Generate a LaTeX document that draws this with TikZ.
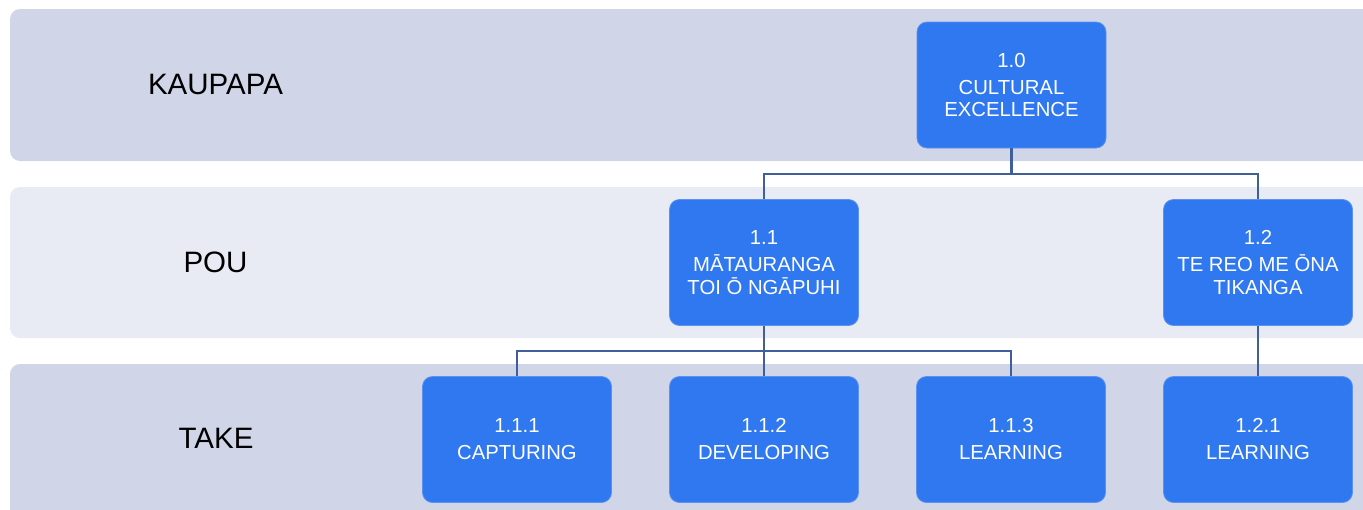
\documentclass[tikz,border=0pt]{standalone}
\usepackage{fontspec}
\setmainfont{Liberation Sans}
\usetikzlibrary{calc}
\definecolor{bandA}{HTML}{D1D5E8}
\definecolor{bandB}{HTML}{E8EAF4}
\definecolor{boxblue}{HTML}{2F78EF}
\definecolor{boxedge}{HTML}{5C92EE}
\definecolor{linkc}{HTML}{3F5E9A}
\begin{document}
\begin{tikzpicture}[x=1pt,y=-1pt,
  band/.style={rounded corners=10pt},
  box/.style={draw=boxedge, line width=0.8pt, fill=boxblue, rounded corners=10pt,
    minimum width=189pt, minimum height=126pt, inner sep=0pt, align=center,
    text=white, font=\fontsize{20.3}{22.5}\selectfont},
  lvl/.style={font=\fontsize{29.5}{34}\selectfont, text=black},
  link/.style={draw=linkc, line width=2.2pt}]
\useasboundingbox (0,0) rectangle (1363,509);
% bands
\fill[bandA, band] (10,9) rectangle (1400,161);
\fill[bandB, band] (10,187) rectangle (1400,338);
\fill[bandA, band] (10,364) rectangle (1400,540);
% level labels
\node[lvl] (lk) at (215.5,84) {KAUPAPA};
\node[lvl] (lp) at (215.5,262) {POU};
\node[lvl] (lt) at (216,438) {TAKE};
% boxes
\node[box] (n10) at (1011.5,85) {1.0\\[4.5pt]CULTURAL\\EXCELLENCE};
\node[box] (n11) at (764,262.5) {1.1\\[4.5pt]MĀTAURANGA\\TOI Ō NGĀPUHI};
\node[box] (n12) at (1258,262.5) {1.2\\[4.5pt]TE REO ME ŌNA\\TIKANGA};
\node[box] (n111) at (517,439.5) {1.1.1\\[4.5pt]CAPTURING};
\node[box] (n112) at (764,439.5) {1.1.2\\[4.5pt]DEVELOPING};
\node[box] (n113) at (1011,439.5) {1.1.3\\[4.5pt]LEARNING};
\node[box] (n121) at (1258,439.5) {1.2.1\\[4.5pt]LEARNING};
% connectors
\coordinate (j1) at ($(n10.south)!.5!(n11.north)$);
\draw[link] (n10.south) -- (n10.south |- j1);
\draw[link] (n11.north) |- (j1) -| (n12.north);
\coordinate (j2) at ($(n11.south)!.5!(n111.north)$);
\draw[link] (n11.south) -- (n112.north);
\draw[link] (n111.north) |- (j2) -| (n113.north);
\draw[link] (n12.south) -- (n121.north);
\end{tikzpicture}
\end{document}
